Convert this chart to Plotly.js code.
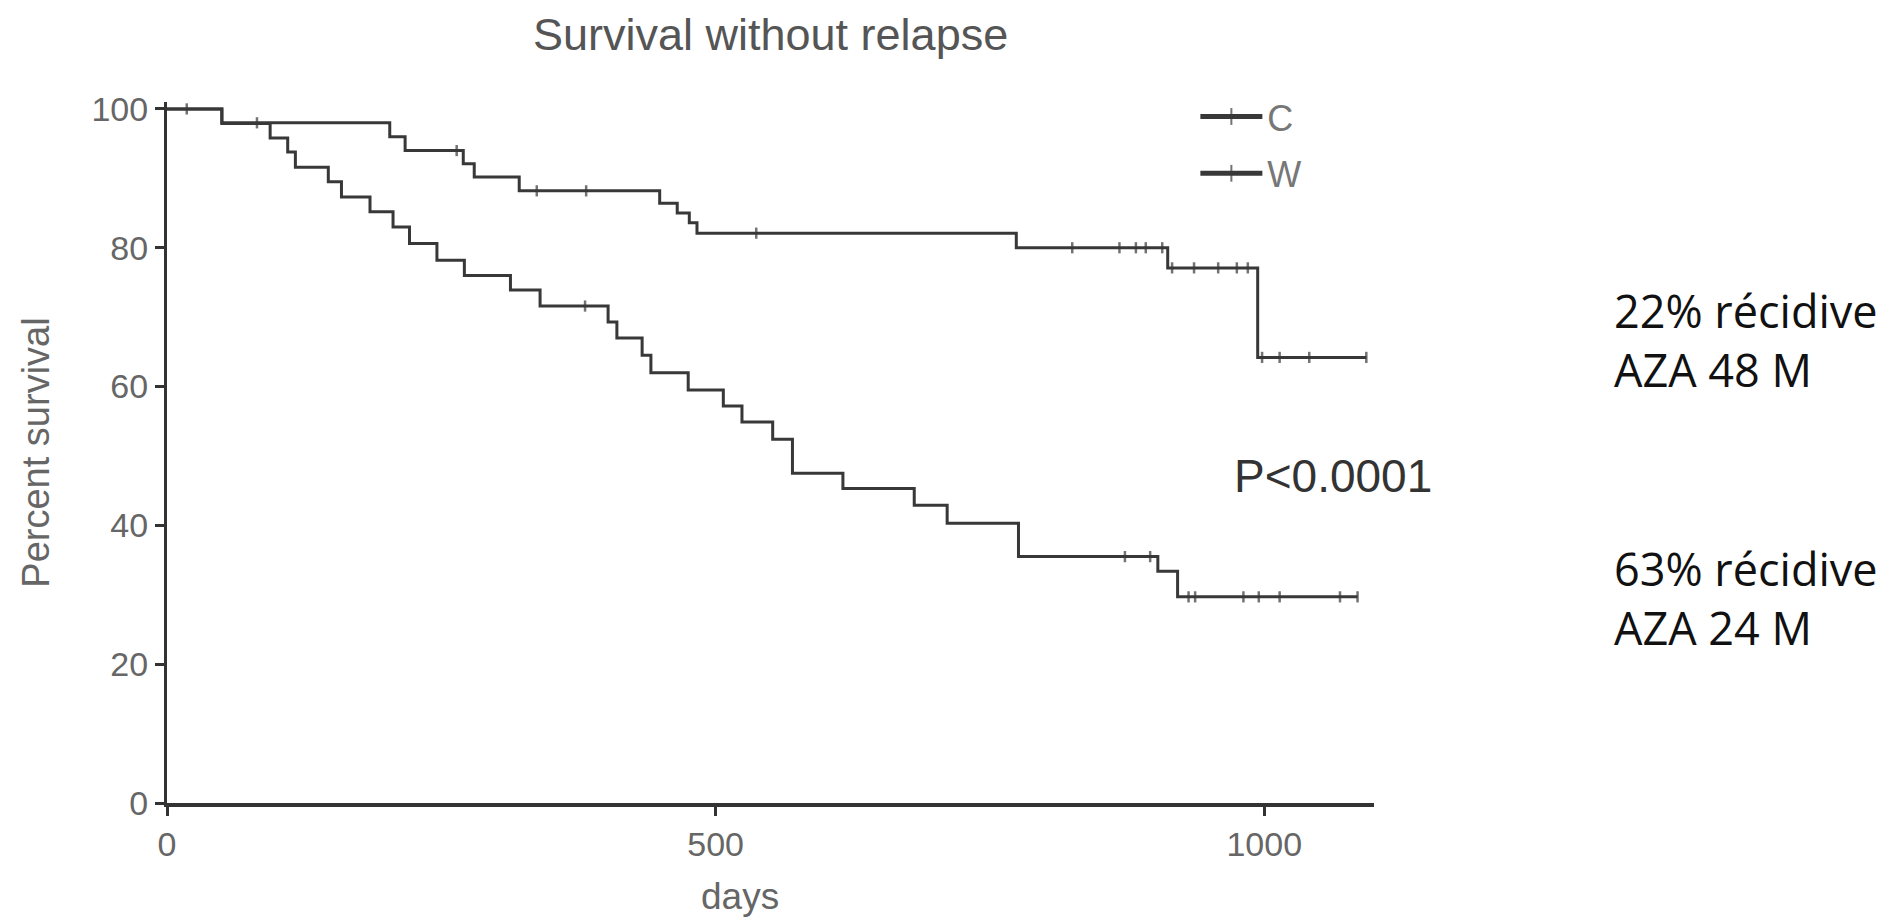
<!DOCTYPE html>
<html><head><meta charset="utf-8">
<script src="https://cdn.plot.ly/plotly-3.0.1.min.js"></script>
<style>html,body{margin:0;padding:0;background:#fff}</style>
</head><body><div id="chart" style="width:1898px;height:922px"></div>
<script>
// Group C
const cDays = [0, 18, 50, 82, 203, 217, 264, 270, 280, 321, 337, 382, 449, 465, 476, 483, 537, 774, 825, 868, 883, 892, 907, 912, 916, 936, 958, 975, 985, 994, 998, 1014, 1041, 1093];
const cSurvival = [100, 100, 98, 98, 96, 94, 94, 92.1, 90.2, 88.2, 88.2, 88.2, 86.4, 85.0, 83.6, 82.1, 82.1, 80.0, 80.0, 80.0, 80.0, 80.0, 80.0, 77.1, 77.1, 77.1, 77.1, 77.1, 77.1, 64.2, 64.2, 64.2, 64.2, 64.2];
const cCensored = [0, 1, 0, 1, 0, 0, 1, 0, 0, 0, 1, 1, 0, 0, 0, 0, 1, 0, 1, 1, 1, 1, 1, 0, 1, 1, 1, 1, 1, 0, 1, 1, 1, 1];
// Group W
const wDays = [0, 50, 94, 110, 117, 147, 159, 185, 206, 221, 246, 271, 313, 340, 381, 402, 410, 433, 441, 475, 507, 524, 552, 570, 616, 681, 711, 776, 873, 896, 903, 921, 931, 937, 981, 995, 1014, 1069, 1085];
const wSurvival = [100, 97.9, 95.8, 93.8, 91.6, 89.5, 87.3, 85.2, 83.0, 80.6, 78.2, 76.0, 73.9, 71.6, 71.6, 69.3, 67.0, 64.5, 62.0, 59.5, 57.2, 54.9, 52.4, 47.5, 45.3, 42.9, 40.3, 35.5, 35.5, 35.5, 33.4, 29.7, 29.7, 29.7, 29.7, 29.7, 29.7, 29.7, 29.7];
const wCensored = [0, 0, 0, 0, 0, 0, 0, 0, 0, 0, 0, 0, 0, 0, 1, 0, 0, 0, 0, 0, 0, 0, 0, 0, 0, 0, 0, 0, 1, 1, 0, 0, 1, 1, 1, 1, 1, 1, 1];

const xTicks = [0, 500, 1000];
const yTicks = [0, 20, 40, 60, 80, 100];

const lineColor = '#383838';
function kmTrace(name, days, surv, cens) {
  return {
    type: 'scatter', mode: 'lines+markers', name: name,
    x: days, y: surv,
    legendgroup: name,
    line: {shape: 'hv', color: lineColor, width: 3},
    marker: {symbol: 'line-ns', size: cens.map(c => c ? 8 : 0),
             color: lineColor, line: {color: lineColor, width: 2.5}},
    cliponaxis: false
  };
}

const data = [
  kmTrace('C', cDays, cSurvival, cCensored),
  kmTrace('W', wDays, wSurvival, wCensored)
];

const sans = 'Liberation Sans, Arial, sans-serif';
const sideFont = {family: 'Open Sans, Noto Sans, sans-serif', size: 45, color: '#111'};
const layout = {
  width: 1898, height: 922,
  paper_bgcolor: '#fff', plot_bgcolor: '#fff',
  margin: {l: 167, r: 524, t: 102, b: 119},
  title: {text: 'Survival without relapse', x: 0.406, xanchor: 'center', y: 0.963, yanchor: 'middle',
          font: {family: sans, size: 45, color: '#555'}},
  xaxis: {range: [0, 1100], tickvals: xTicks, ticktext: xTicks.map(String),
          showgrid: false, zeroline: false, showline: true, linecolor: '#333', linewidth: 3.5,
          ticks: 'outside', ticklen: 9, tickwidth: 3, tickcolor: '#333',
          tickfont: {family: sans, size: 34, color: '#666'}},
  yaxis: {range: [0, 101], tickvals: yTicks, ticktext: yTicks.map(String),
          showgrid: false, zeroline: false, showline: true, linecolor: '#333', linewidth: 3,
          ticks: 'outside', ticklen: 9, tickwidth: 3, tickcolor: '#333',
          tickfont: {family: sans, size: 34, color: '#666'},
          title: {text: 'Percent survival', standoff: 31,
                  font: {family: sans, size: 38, color: '#666'}}},
  showlegend: true,
  legend: {x: 0.852, xanchor: 'left', y: 1.022, yanchor: 'top', bgcolor: 'rgba(0,0,0,0)',
           traceorder: 'grouped', tracegroupgap: 7, itemwidth: 62, itemsizing: 'constant',
           font: {family: sans, size: 36, color: '#777'}},
  annotations: [
    {text: 'days', xref: 'paper', yref: 'paper', x: 0.475, y: -0.133, xanchor: 'center', yanchor: 'middle',
     showarrow: false, font: {family: sans, size: 37, color: '#666'}},
    {text: 'P<0.0001', xref: 'paper', yref: 'paper', x: 0.882, y: 0.466, xanchor: 'left', yanchor: 'middle',
     showarrow: false, font: {family: sans, size: 46, color: '#333'}},
    {text: '22% récidive<br>AZA 48 M', xref: 'paper', yref: 'paper', x: 1.197, y: 0.660, xanchor: 'left', yanchor: 'middle', align: 'left', showarrow: false, font: sideFont},
    {text: '63% récidive<br>AZA 24 M', xref: 'paper', yref: 'paper', x: 1.197, y: 0.293, xanchor: 'left', yanchor: 'middle', align: 'left', showarrow: false, font: sideFont}
  ]
};

Plotly.newPlot('chart', data, layout, {displayModeBar: false, staticPlot: true});
</script>
</body></html>
